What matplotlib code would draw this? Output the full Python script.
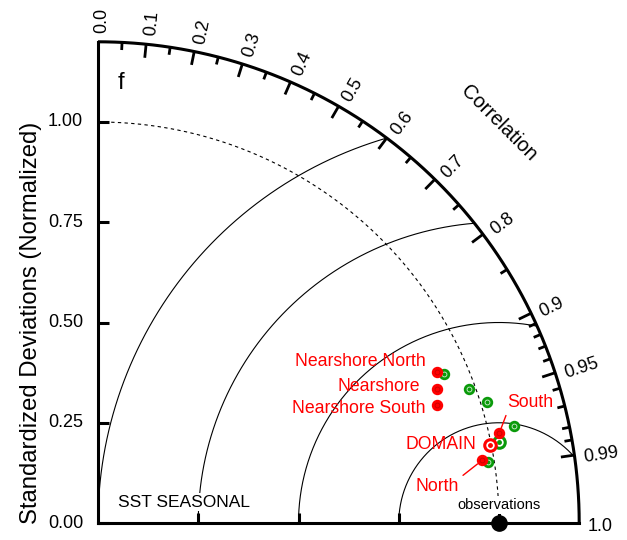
import numpy as np
import matplotlib
matplotlib.use("Agg")
import matplotlib.pyplot as plt

plt.rcParams['font.family'] = ['Liberation Sans', 'DejaVu Sans']

# Datos (desviacion estandar normalizada y correlacion)
regiones = ['DOMAIN', 'North', 'South', 'Nearshore', 'Nearshore North', 'Nearshore South']
std_rojo = [0.997, 0.970, 1.025, 0.909, 0.926, 0.895]
cor_rojo = [0.981, 0.987, 0.976, 0.930, 0.914, 0.944]
std_verde = [1.021, 0.985, 1.064, 0.984, 0.940, 1.015]
cor_verde = [0.980, 0.988, 0.974, 0.941, 0.919, 0.955]

std_ticks = [0.0, 0.25, 0.5, 0.75, 1.0]
std_ticklabels = ['0.00', '0.25', '0.50', '0.75', '1.00']
cor_mayores = [0.0, 0.1, 0.2, 0.3, 0.4, 0.5, 0.6, 0.7, 0.8, 0.9, 0.95, 0.99, 1.0]
cor_mayores_lbl = ['0.0', '0.1', '0.2', '0.3', '0.4', '0.5', '0.6', '0.7', '0.8', '0.9', '0.95', '0.99', '1.0']
cor_menores = [0.05, 0.15, 0.25, 0.35, 0.45, 0.55, 0.65, 0.75, 0.85,
               0.91, 0.92, 0.93, 0.94, 0.96, 0.97, 0.98, 0.985]
rms_radios = [0.25, 0.5, 0.75, 1.0]

RMAX = 1.2
ROJO = '#ff0000'
VERDE = '#0a9a0a'

# desplazamiento de etiquetas en puntos (x, y)
offsets = {
    'DOMAIN': (-10, 1),
    'North': (-32, -19),
    'South': (6, 22),
    'Nearshore': (-12, 1.5),
    'Nearshore North': (-8.5, 7.5),
    'Nearshore South': (-8, -2.7),
}

fig = plt.figure(figsize=(6.27, 5.40), dpi=100)
ax = fig.add_axes([0, 0, 1, 1])
ax.set_xlim(-98 / 401, 529 / 401)
ax.set_ylim(-17 / 401, 523 / 401)
ax.axis('off')

# Ejes y arco exterior
t = np.linspace(0, np.pi / 2, 400)
ax.plot(RMAX * np.cos(t), RMAX * np.sin(t), color='black', lw=2.2, solid_capstyle='butt')
ax.plot([0, 0], [0, RMAX], color='black', lw=2.2, solid_capstyle='projecting')
ax.plot([0, RMAX], [0, 0], color='black', lw=2.2, solid_capstyle='projecting')

# Arco de referencia (std = 1)
ax.plot(np.cos(t), np.sin(t), color='black', lw=0.8, linestyle=(0, (3, 3)))

# Arcos RMS centrados en observaciones
for r in rms_radios:
    xi = (RMAX ** 2 + 1 - r ** 2) / 2
    yi = np.sqrt(RMAX ** 2 - xi ** 2)
    a_fin = np.arctan2(yi, xi - 1)
    a = np.linspace(a_fin, np.pi, 300)
    ax.plot(1 + r * np.cos(a), r * np.sin(a), color='black', lw=0.8)

# Ticks del eje y
for v, lbl in zip(std_ticks, std_ticklabels):
    ax.plot([0, 0.027], [v, v], color='black', lw=2.2, solid_capstyle='butt')
    ax.text(-0.037, v, lbl, ha='right', va='center', fontsize=13)
# Ticks del eje x
for v in std_ticks[1:]:
    ax.plot([v, v], [0, 0.025], color='black', lw=2.2, solid_capstyle='butt')

ax.text(-0.168, 0.5, 'Standardized Deviations (Normalized)', rotation=90,
        ha='center', va='center', fontsize=17.2)

# Ticks de correlacion
for c, lbl in zip(cor_mayores, cor_mayores_lbl):
    th = np.arccos(c)
    if 0 < c < 1:
        ax.plot([RMAX * np.cos(th), (RMAX - 0.034) * np.cos(th)],
                [RMAX * np.sin(th), (RMAX - 0.034) * np.sin(th)],
                color='black', lw=2.0, solid_capstyle='butt')
    d = 0.009
    ax.text(1.222 * np.cos(th) + d * np.sin(th), 1.222 * np.sin(th) - d * np.cos(th), lbl,
            rotation=np.degrees(th), rotation_mode='anchor', ha='left', va='center', fontsize=13)
for c in cor_menores:
    th = np.arccos(c)
    ax.plot([RMAX * np.cos(th), (RMAX - 0.019) * np.cos(th)],
            [RMAX * np.sin(th), (RMAX - 0.019) * np.sin(th)],
            color='black', lw=2.0, solid_capstyle='butt')

ax.text(1.0, 0.997, 'Correlation', rotation=-45, ha='center', va='center', fontsize=14.5)

# Textos
ax.text(0.05, 1.097, 'f', ha='left', va='center', fontsize=17)
ax.text(0.05, 0.052, 'SST SEASONAL', ha='left', va='center', fontsize=12.5,
        bbox=dict(facecolor='white', edgecolor='none', pad=1))
ax.text(1.0, 0.045, 'observations', ha='center', va='center', fontsize=10.5,
        bbox=dict(facecolor='white', edgecolor='none', pad=1.5))

# Punto de observaciones
ax.plot([1.0], [0.0], 'o', color='black', markersize=11, clip_on=False, zorder=5)


def dibujar(stds, cors, color, interior, z):
    stds = np.array(stds)
    cors = np.array(cors)
    xs = stds * cors
    ys = stds * np.sqrt(1 - cors ** 2)
    # DOMAIN: anillo
    ax.plot(xs[0], ys[0], 'o', markersize=8.3, markerfacecolor='white',
            markeredgecolor=color, markeredgewidth=2.2, zorder=z)
    ax.plot(xs[0], ys[0], 'o', markersize=2.5, color=color, zorder=z)
    # resto
    ax.plot(xs[1:], ys[1:], 'o', markersize=7.2, color=color, linestyle='none', zorder=z)
    ax.plot(xs[1:], ys[1:], 'o', markersize=3.5, markerfacecolor='none',
            markeredgecolor=interior, markeredgewidth=0.6, linestyle='none', zorder=z)
    return xs, ys


xv, yv = dibujar(std_verde, cor_verde, VERDE, '#d8f0d8', 6)
xr, yr = dibujar(std_rojo, cor_rojo, ROJO, '#c80000', 7)

# Etiquetas de regiones
for i, nombre in enumerate(regiones):
    dx, dy = offsets[nombre]
    props = None
    ha = 'right'
    if nombre == 'South':
        ha = 'left'
        props = dict(arrowstyle='-', color=ROJO, lw=1.0, shrinkA=1, shrinkB=4,
                     relpos=(0.0, 0.0))
    elif nombre == 'North':
        ha = 'center'
        props = dict(arrowstyle='-', color=ROJO, lw=1.0, shrinkA=1, shrinkB=4,
                     relpos=(1.0, 1.0))
    ax.annotate(nombre, xy=(xr[i], yr[i]), xytext=(dx, dy), textcoords='offset points',
                ha=ha, va='center', color=ROJO, fontsize=12.7, arrowprops=props, zorder=8)

fig.savefig('out.png', dpi=100)
